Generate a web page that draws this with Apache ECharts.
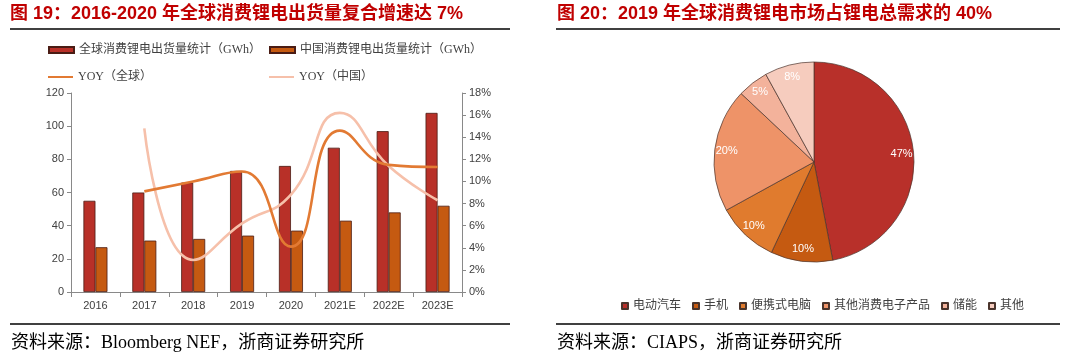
<!DOCTYPE html>
<html><head><meta charset="utf-8">
<script src="https://cdn.jsdelivr.net/npm/echarts@6/dist/echarts.min.js"></script>
<style>html,body{margin:0;padding:0;background:#fff}#c{width:1076px;height:357px}</style>
</head><body><div id="c"></div>
<script>
// ---- data ----
const categories = ['2016','2017','2018','2019','2020','2021E','2022E','2023E'];
const globalShip = [55,60,66,73,76,87,97,108];
const chinaShip  = [27,31,32,34,37,43,48,52];
const yoyGlobal  = [null,9.1,10.0,10.9,4.1,14.6,11.5,11.3];
const yoyChina   = [null,14.8,2.9,6.2,8.8,16.2,11.4,8.3];
const seriesNames = ['全球消费锂电出货量统计（GWh）','中国消费锂电出货量统计（GWh）','YOY（全球）','YOY（中国）'];
const pieNames  = ['电动汽车','手机','便携式电脑','其他消费电子产品','储能','其他'];
const pieValues = [47,10,10,20,5,8];
const titleLeft  = '图 19：2016-2020 年全球消费锂电出货量复合增速达 7%';
const titleRight = '图 20：2019 年全球消费锂电市场占锂电总需求的 40%';
const sourceLeft  = '资料来源：Bloomberg NEF，浙商证券研究所';
const sourceRight = '资料来源：CIAPS，浙商证券研究所';

// ---- styles ----
const pieColors = ['#B8302A','#C55A11','#E07B2E','#EE9368','#F3B29B','#F6CCBE'];
const serif = '"Liberation Serif","Noto Sans CJK SC",serif';
const sans = '"Liberation Sans","Noto Sans CJK SC",sans-serif';
const axisColor = '#898989';
const labelColor = '#404040';

const chart = echarts.init(document.getElementById('c'), null, {renderer:'canvas'});
const legTxt = {fontFamily: serif, fontSize: 12, color: '#404040', lineHeight: 14};
const option = {
  animation: false,
  grid: [{left: 71, right: 614, top: 93, bottom: 65}],
  legend: [
    {data:[seriesNames[0]], left:48, top:43, padding:0, icon:'rect', itemWidth:25, itemHeight:6, textStyle:legTxt, selectedMode:false},
    {data:[seriesNames[1]], left:269, top:43, padding:0, icon:'rect', itemWidth:25, itemHeight:6, textStyle:legTxt, selectedMode:false},
    {data:[seriesNames[2]], left:48, top:70, padding:0, icon:'rect', itemWidth:25, itemHeight:2, textStyle:legTxt, selectedMode:false, itemStyle:{borderWidth:0}},
    {data:[seriesNames[3]], left:269, top:70, padding:0, icon:'rect', itemWidth:25, itemHeight:2, textStyle:legTxt, selectedMode:false, itemStyle:{borderWidth:0}},
    {data: pieNames, left:621, top:300, padding:0, icon:'rect', itemWidth:6, itemHeight:6, itemGap:11,
     textStyle:{fontFamily: serif, fontSize: 12, color:'#404040'}, selectedMode:false}
  ],
  xAxis: [{
    type:'category', data: categories, gridIndex:0,
    axisLine:{lineStyle:{color:axisColor}},
    axisTick:{show:true, length:5, lineStyle:{color:axisColor}},
    axisLabel:{color:labelColor, fontSize:11, fontFamily:sans, margin:8}
  }],
  yAxis: [{
    type:'value', min:0, max:120, interval:20, gridIndex:0,
    axisLine:{show:true, lineStyle:{color:axisColor}},
    axisTick:{show:true, length:4, lineStyle:{color:axisColor}},
    splitLine:{show:false},
    axisLabel:{color:labelColor, fontSize:11, fontFamily:sans, margin:7}
  },{
    type:'value', min:0, max:18, interval:2, gridIndex:0, position:'right',
    axisLine:{show:true, lineStyle:{color:axisColor}},
    axisTick:{show:true, length:4, lineStyle:{color:axisColor}},
    splitLine:{show:false},
    axisLabel:{color:labelColor, fontSize:11, fontFamily:sans, margin:7, formatter:'{value}%'}
  }],
  series: [
    {name:seriesNames[0], type:'bar', data:globalShip, barWidth:12, barGap:'0%',
     itemStyle:{color:'#B83028', borderColor:'#4a1c14', borderWidth:0.8}},
    {name:seriesNames[1], type:'bar', data:chinaShip, barWidth:12, barGap:'0%',
     itemStyle:{color:'#C55A11', borderColor:'#4a1c14', borderWidth:0.8}},
    {name:seriesNames[3], type:'line', yAxisIndex:1, data:yoyChina, smooth:0.5, symbol:'none',
     lineStyle:{color:'#F6C0AA', width:2.6}, itemStyle:{color:'#F6C0AA'}},
    {name:seriesNames[2], type:'line', yAxisIndex:1, data:yoyGlobal, smooth:0.5, symbol:'none',
     lineStyle:{color:'#E27A33', width:2.6}, itemStyle:{color:'#E27A33'}},
    {name:'pie', type:'pie', center:[814,162], radius:100, startAngle:90, clockwise:true,
     data: pieNames.map((n,i)=>({name:n, value:pieValues[i], itemStyle:{color:pieColors[i]}})),
     itemStyle:{borderColor:'#4a342c', borderWidth:0.7},
     label:{show:false}, labelLine:{show:false}, emphasis:{disabled:true}, silent:true},
    {name:'pieLabels', type:'pie', center:[814,162], radius:[70,100], startAngle:90, clockwise:true,
     data: pieValues.map((v,i)=>({name:'lbl'+i, value:v})),
     itemStyle:{color:'transparent', borderWidth:0},
     label:{show:true, position:'inside', formatter:'{c}%', color:'#ffffff', fontSize:11, fontFamily:sans},
     labelLine:{show:false}, emphasis:{disabled:true}, silent:true}
  ],
  graphic: [
    {type:'text', left:10, top:5, style:{text:titleLeft, font:'bold 18px '+sans, fill:'#C00000'}},
    {type:'text', left:557, top:5, style:{text:titleRight, font:'bold 18px '+sans, fill:'#C00000'}},
    {type:'line', shape:{x1:10,y1:29,x2:510,y2:29}, style:{stroke:'#000', lineWidth:1.5}},
    {type:'line', shape:{x1:556,y1:29,x2:1060,y2:29}, style:{stroke:'#000', lineWidth:1.5}},
    {type:'line', shape:{x1:10,y1:324,x2:510,y2:324}, style:{stroke:'#000', lineWidth:1.5}},
    {type:'line', shape:{x1:556,y1:324,x2:1060,y2:324}, style:{stroke:'#000', lineWidth:1.5}},
    {type:'text', left:11, top:334, style:{text:sourceLeft, font:'18px '+serif, fill:'#000'}},
    {type:'text', left:557, top:334, style:{text:sourceRight, font:'18px '+serif, fill:'#000'}}
  ]
};
chart.setOption(option);
</script>
</body></html>
